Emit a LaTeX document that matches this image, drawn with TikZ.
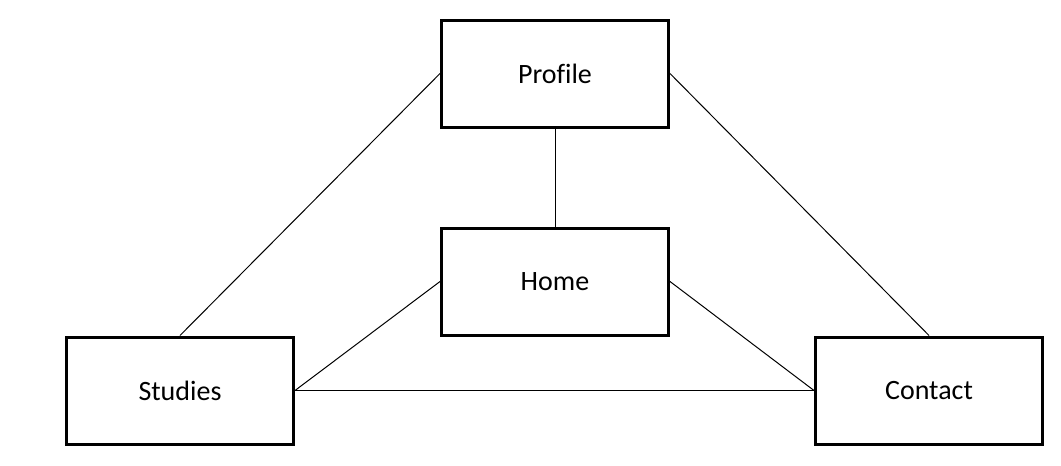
\documentclass[tikz,border=0pt]{standalone}
\usepackage{fontspec}
\setmainfont[Ligatures=NoCommon]{Carlito}
\usetikzlibrary{arrows}
\tikzstyle{seite}=[draw, line width=1.5pt, minimum width=113.5pt,
  minimum height=53.5pt, text centered, font=\fontsize{14}{16}\selectfont]
\tikzstyle{line} = [draw, line width=0.5pt, color=black]

\begin{document}
\begin{tikzpicture}[x=0.5pt,y=-0.5pt]
  \useasboundingbox (0,0) rectangle (1061,466);

  \path (555,73.5) node (profil) [seite] {Profile};
  \path (555,281.5) node (home) [seite] {Home};
  \path (180,390.5) node (studien) [seite] {Studies};
  \path (929,390.5) node (kontakt) [seite] {Contact};

  \path [line] (profil.west) -- (studien.north);
  \path [line] (profil.east) -- (kontakt.north);
  \path [line] (profil.south) -- (home.north);
  \path [line] (home.west) -- (studien.east);
  \path [line] (home.east) -- (kontakt.west);
  \path [line] (studien.east) -- (kontakt.west);
\end{tikzpicture}
\end{document}
